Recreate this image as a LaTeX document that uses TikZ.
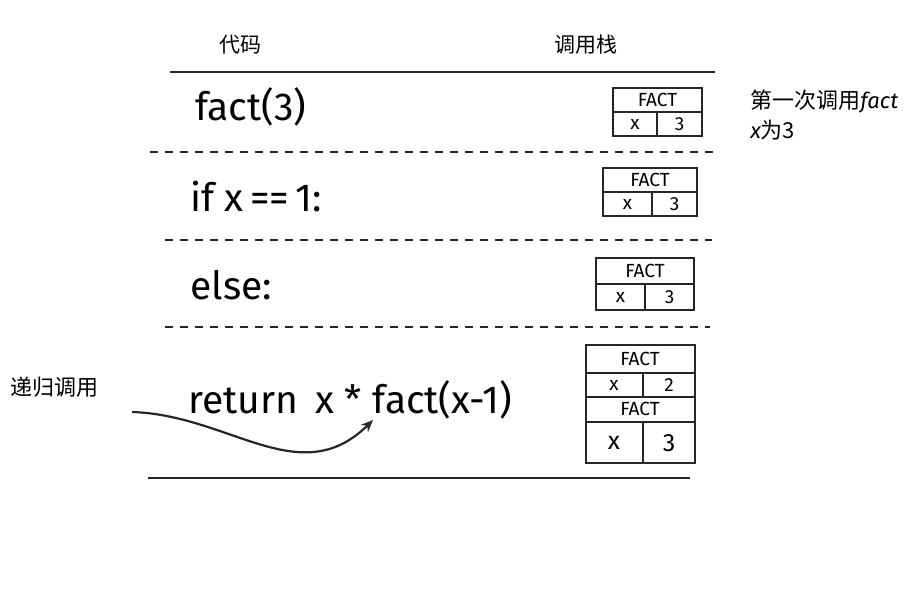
\documentclass[tikz,border=0pt]{standalone}
\usepackage{fontspec}
\setsansfont{Fira Sans}
\newfontfamily\cjk{Noto Sans CJK SC}
\usetikzlibrary{arrows.meta, positioning}

\begin{document}
\begin{tikzpicture}[x=0.5pt, y=-0.5pt,
    rule/.style={line width=1.1pt, black!85},
    sep/.style={line width=1pt, black!85, dash pattern=on 4pt off 3.5pt},
    frame/.style={line width=1pt, black!85},
    code/.style={anchor=west, inner sep=0pt, font=\sffamily\fontsize{19.5}{23}\selectfont},
    cell/.style={inner sep=0pt, font=\sffamily\fontsize{9.5}{11}\selectfont},
    note/.style={anchor=west, inner sep=0pt, font=\cjk\fontsize{11}{13}\selectfont}]

\useasboundingbox (0,0) rectangle (924,598);

% Headers
\node[inner sep=0pt, font=\cjk\fontsize{10.5}{12}\selectfont] (hcode) at (240,45) {代码};
\node[inner sep=0pt, font=\cjk\fontsize{10.5}{12}\selectfont] (hstack) at (586,45) {调用栈};

% Rules between rows
\draw[rule] (170,72) -- (715,72);
\draw[sep] (150,152) -- (715,152);
\draw[sep] (165,240) -- (712,240);
\draw[sep] (165,327) -- (710,327);
\draw[rule] (148,478) -- (690,478);

% Code lines
\node[code] (code1) at (195,107) {fact(3)};
\node[code] (code2) at (190,197) {if x\,==\,1:};
\node[code] (code3) at (190,285) {else:};
\node[code] (code4) at (188,400) {return\, x\;*\;fact(x-1)};

% Stack frames with one call
\foreach \i/\l/\r/\t/\b/\s in {1/613/702/88/136/657, 2/603/697/168/216/652, 3/596/694/258/310/645}{
  \draw[frame] (\l,\t) rectangle (\r,\b);
  \draw[frame] (\l,{(\t+\b)/2}) -- (\r,{(\t+\b)/2});
  \draw[frame] (\s,{(\t+\b)/2}) -- (\s,\b);
  \node[cell] (name\i) at ({(\l+\r)/2},{(3*\t+\b)/4}) {FACT};
  \node[cell] (x\i) at ({(\l+\s)/2},{(\t+3*\b)/4}) {x};
  \node[cell] (v\i) at ({(\s+\r)/2},{(\t+3*\b)/4}) {3};
}

% Stack with two calls
\draw[frame] (586,345) rectangle (695,463);
\draw[frame] (586,373) -- (695,373);
\draw[frame] (586,397) -- (695,397);
\draw[frame] (586,422) -- (695,422);
\draw[frame] (643,373) -- (643,397);
\draw[frame] (643,422) -- (643,463);
\node[cell] (nametop) at (640,359) {FACT};
\node[cell] (xtop) at (614,385) {x};
\node[cell] (vtop) at (669,385) {2};
\node[cell] (namebot) at (640,409) {FACT};
\node[cell, font=\sffamily\fontsize{12.5}{14}\selectfont] (xbot) at (614,443) {x};
\node[cell, font=\sffamily\fontsize{12.5}{14}\selectfont] (vbot) at (669,443) {3};

% Notes
\node[note] (first) at (750,102) {第一次调用{\sffamily\itshape fact}};
\node[note] (firstx) at (750,130) {{\sffamily\itshape x}为3};
\node[note] (recur) at (10,387) {递归调用};

% Recursive call arrow
\coordinate (tail) at (132,412);
\coordinate (head) at (373,420);
\draw[line width=1.1pt, black!85, -{Stealth[length=6pt, width=5pt]}]
  (tail) .. controls (230,415) and (300,492) .. (head);
\end{tikzpicture}
\end{document}
